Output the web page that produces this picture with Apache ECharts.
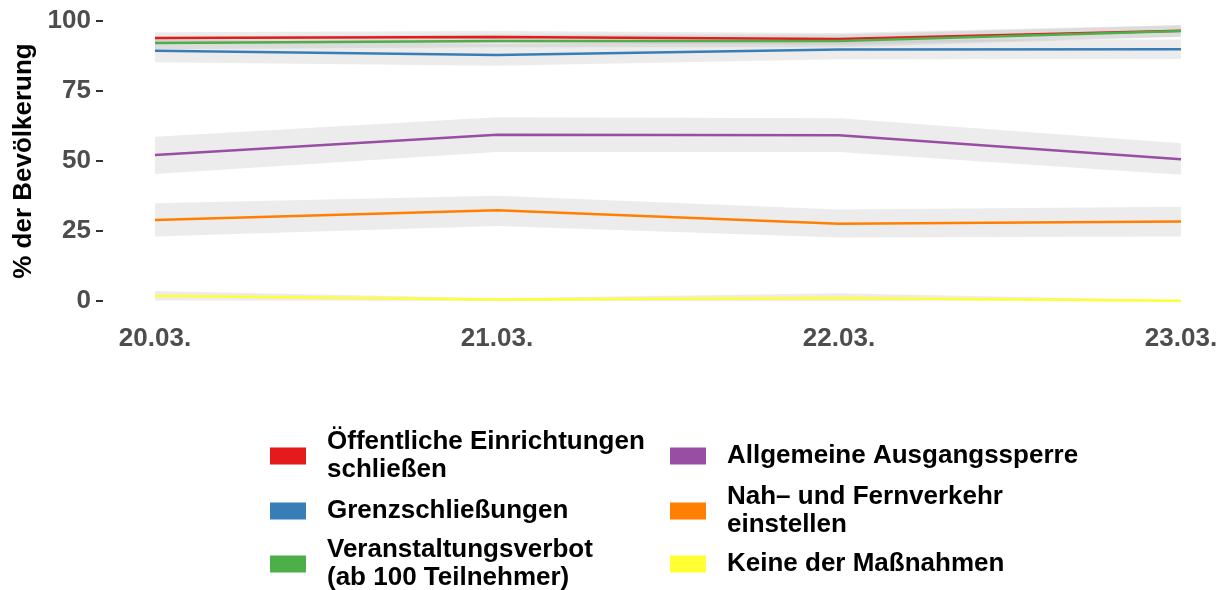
<!DOCTYPE html>
<html>
<head>
<meta charset="utf-8">
<script src="https://cdn.jsdelivr.net/npm/echarts@6/dist/echarts.min.js"></script>
<style>
  html, body { margin: 0; padding: 0; background: #fff; }
  #chart { width: 1222px; height: 590px; }
</style>
</head>
<body>
<div id="chart"></div>
<script>
// Tage
var days = ['20.03.', '21.03.', '22.03.', '23.03.'];

// Maßnahmen (Reihenfolge wie Legende)
var names = [
    'Öffentliche Einrichtungen\nschließen',
    'Grenzschließungen',
    'Veranstaltungsverbot\n(ab 100 Teilnehmer)',
    'Allgemeine Ausgangssperre',
    'Nah– und Fernverkehr\neinstellen',
    'Keine der Maßnahmen'
];
var colors = ['#E41A1C', '#377EB8', '#4DAF4A', '#984EA3', '#FF7F00', '#FFFF33'];

// Anteile in %
var oeffentlich = [93.9, 94.3, 93.6, 96.5];
var grenze      = [89.4, 87.9, 89.8, 89.9];
var veranst     = [92.1, 92.9, 92.9, 96.4];
var ausgang     = [52.1, 59.4, 59.2, 50.6];
var verkehr     = [28.9, 32.4, 27.6, 28.4];
var keine       = [1.9, 0.5, 1.1, 0.1];

// Konfidenzbänder (unten / oben)
var oeffentlichLo = [91.8, 92.2, 91.5, 94.4];
var oeffentlichHi = [96.0, 96.4, 95.7, 98.6];
var grenzeLo      = [85.3, 84.0, 86.3, 86.4];
var grenzeHi      = [93.5, 91.8, 93.3, 93.4];
var veranstLo     = [89.9, 90.6, 90.6, 94.3];
var veranstHi     = [94.3, 95.2, 95.2, 98.5];
var ausgangLo     = [45.4, 53.2, 53.2, 45.1];
var ausgangHi     = [58.7, 65.6, 65.3, 56.3];
var verkehrLo     = [23.0, 26.8, 22.7, 23.0];
var verkehrHi     = [34.9, 37.6, 32.7, 33.7];
var keineLo       = [0.2, 0.0, 0.0, 0.0];
var keineHi       = [3.6, 1.0, 2.75, 0.3];

var yTicks = [0, 25, 50, 75, 100];

var values = [oeffentlich, grenze, veranst, ausgang, verkehr, keine];
var lows   = [oeffentlichLo, grenzeLo, veranstLo, ausgangLo, verkehrLo, keineLo];
var highs  = [oeffentlichHi, grenzeHi, veranstHi, ausgangHi, verkehrHi, keineHi];

var FONT = 'Liberation Sans';
var FS = 26;

var series = [];

// Bänder zuerst
for (var i = 0; i < names.length; i++) {
    var diff = [];
    for (var j = 0; j < days.length; j++) {
        diff.push(+(highs[i][j] - lows[i][j]).toFixed(2));
    }
    series.push({
        name: 'band' + i + 'lo', type: 'line', stack: 'band' + i, data: lows[i],
        symbol: 'none', silent: true, z: 1, lineStyle: { opacity: 0 }
    });
    series.push({
        name: 'band' + i + 'hi', type: 'line', stack: 'band' + i, data: diff,
        symbol: 'none', silent: true, z: 1, lineStyle: { opacity: 0 },
        areaStyle: { color: 'rgba(160,160,160,0.2)', opacity: 1 }
    });
}

// dann die Linien
for (var i = 0; i < names.length; i++) {
    series.push({
        name: names[i], type: 'line', data: values[i],
        symbol: 'none', z: 3, color: colors[i],
        lineStyle: { width: 2.5, color: colors[i] }
    });
}

// Legende: zwei Spalten, je drei Einträge
var legendPos = [
    { left: 270, top: 428 },
    { left: 270, top: 497 },
    { left: 270, top: 536 },
    { left: 670, top: 442 },
    { left: 670, top: 483 },
    { left: 670, top: 550 }
];
var legends = [];
for (var i = 0; i < names.length; i++) {
    legends.push({
        data: [names[i]],
        left: legendPos[i].left,
        top: legendPos[i].top,
        icon: 'rect',
        itemWidth: 36,
        itemHeight: 17,
        selectedMode: false,
        padding: 0,
        textStyle: {
            fontFamily: FONT,
            fontWeight: 'bold',
            fontSize: FS,
            lineHeight: 28,
            color: '#000',
            padding: [0, 0, 0, 16]
        }
    });
}

var chart = echarts.init(document.getElementById('chart'));
chart.setOption({
    animation: false,
    backgroundColor: '#fff',
    grid: { left: 155, right: 41, top: 21, bottom: 289, outerBoundsMode: 'none', containLabel: false },
    legend: legends,
    xAxis: {
        type: 'category',
        data: days,
        boundaryGap: false,
        axisLine: { show: false },
        axisTick: { show: false },
        splitLine: { show: false },
        axisLabel: {
            margin: 25,
            fontFamily: FONT,
            fontWeight: 'bold',
            fontSize: FS,
            color: '#4d4d4d'
        }
    },
    yAxis: {
        type: 'value',
        min: 0,
        max: 100,
        interval: 25,
        offset: 52,
        name: '% der Bevölkerung',
        nameLocation: 'middle',
        nameGap: 59,
        nameTextStyle: {
            fontFamily: FONT,
            fontWeight: 'bold',
            fontSize: FS,
            color: '#000'
        },
        axisLine: { show: false },
        axisTick: { show: true, length: 7, lineStyle: { color: '#333', width: 2 } },
        splitLine: { show: false },
        axisLabel: {
            margin: 12,
            fontFamily: FONT,
            fontWeight: 'bold',
            fontSize: FS,
            color: '#4d4d4d',
            formatter: function (v) { return yTicks.indexOf(v) >= 0 ? String(v) : ''; }
        }
    },
    series: series
});
</script>
</body>
</html>
